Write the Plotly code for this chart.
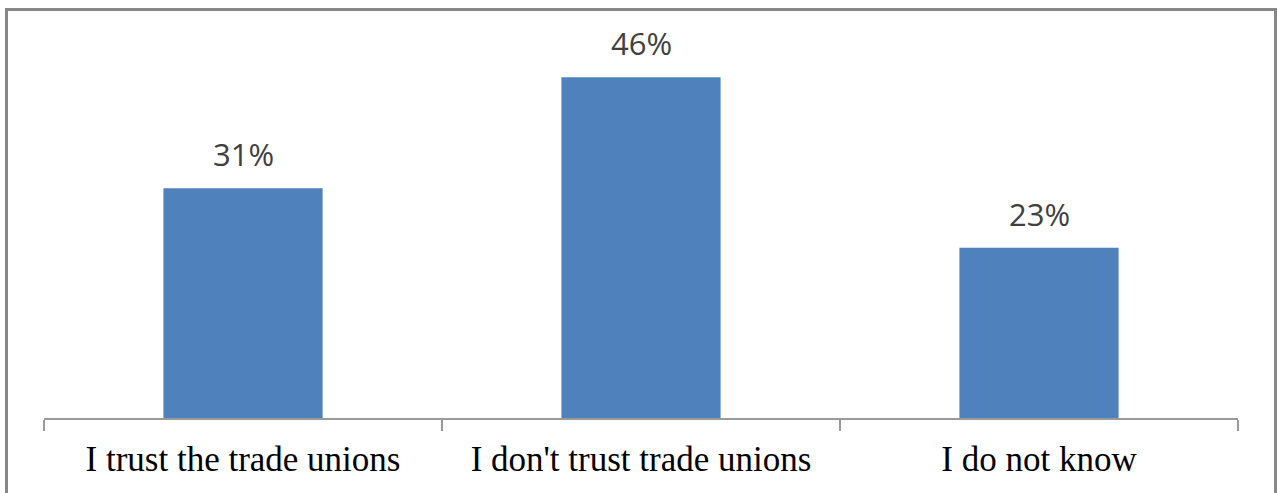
import plotly.graph_objects as go

categories = ["I trust the trade unions", "I don't trust trade unions", "I do not know"]
values = [31, 46, 23]
value_labels = ["31%", "46%", "23%"]

W, H = 1277, 493
L, R, T, B = 44, 39, 18, 75
pw = W - L - R
ph = H - T - B

fig = go.Figure()
fig.add_trace(go.Bar(
    x=categories, y=values,
    marker=dict(color="#4F81BD", line=dict(width=0)),
    hoverinfo="skip",
))

for c, v, lab in zip(categories, values, value_labels):
    fig.add_annotation(
        x=c, y=v, text=lab, showarrow=False,
        yanchor="middle", yshift=34,
        font=dict(family="Open Sans", size=31, color="#404040"),
    )

def px_x(p):
    return (p - L) / pw

def px_y(p):
    return (H - B - p) / ph

fig.add_shape(
    type="rect", xref="paper", yref="paper",
    x0=px_x(6.5), x1=px_x(1275.5), y0=px_y(500), y1=px_y(9.5),
    line=dict(color="#878787", width=3), fillcolor="rgba(0,0,0,0)",
    layer="above",
)

fig.update_layout(
    width=W, height=H,
    margin=dict(l=L, r=R, t=T, b=B),
    paper_bgcolor="white", plot_bgcolor="white",
    bargap=0.6,
    showlegend=False,
    xaxis=dict(
        type="category",
        showline=True, linecolor="#9A9A9A", linewidth=1.5,
        ticks="outside", tickson="boundaries", ticklen=11,
        tickcolor="#9A9A9A", tickwidth=1.5,
        ticklabelstandoff=9,
        tickfont=dict(family="Liberation Serif", size=35, color="#000000"),
        showgrid=False, zeroline=False,
    ),
    yaxis=dict(
        range=[0, 54], visible=False, showgrid=False, zeroline=False,
    ),
)

fig.write_html(
    "out.html",
    config={"displayModeBar": False},
    post_script="document.body.style.margin='0';document.body.style.overflow='hidden';",
)
